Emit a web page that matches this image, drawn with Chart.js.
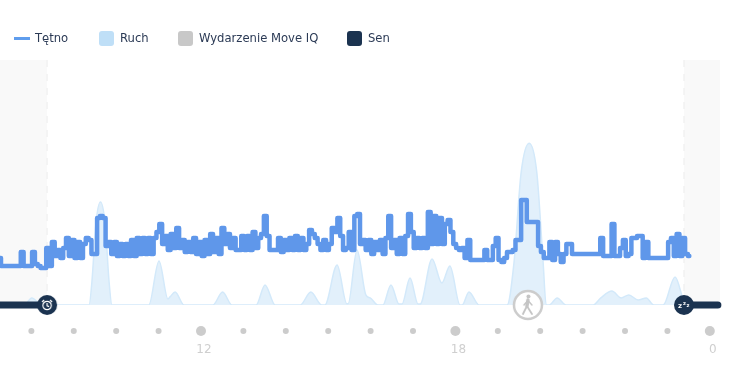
<!DOCTYPE html>
<html lang="pl">
<head>
  <meta charset="UTF-8">
  <title>Tętno</title>
  <script src="https://cdn.jsdelivr.net/npm/chart.js"></script>
  <style>
    body { margin: 0; background: #fff; font-family: "DejaVu Sans", sans-serif; overflow: hidden; }
    #wrap { position: relative; width: 736px; height: 366px; }
    #legend { position: absolute; top: 31px; left: 0; height: 15px; font-size: 11.6px; color: #2b3a55; }
    #legend span { position: absolute; top: 0; line-height: 15px; white-space: nowrap; }
    #legend i { position: absolute; display: block; }
    canvas { position: absolute; top: 0; left: 0; }
  </style>
</head>
<body>
  <div id="wrap">
    <canvas id="chart" width="736" height="366"></canvas>
    <div id="legend">
      <i style="left:14px;top:6px;width:16px;height:3px;background:#5f9ded"></i><span style="left:35px">Tętno</span>
      <i style="left:99px;top:0;width:15px;height:15px;border-radius:3px;background:#bfdff7"></i><span style="left:120px">Ruch</span>
      <i style="left:178px;top:0;width:15px;height:15px;border-radius:3px;background:#c8c8c8"></i><span style="left:199px">Wydarzenie Move IQ</span>
      <i style="left:347px;top:0;width:15px;height:15px;border-radius:3px;background:#1b3350"></i><span style="left:368px">Sen</span>
    </div>
  </div>

  <script>
    // heart rate, one reading every 4 minutes from 7:15
    const hrStartHour = 7.25;
    const hrStepMin = 4;
    const hrValues = [
      53,49,49,49,49,49,49,49,56,49,49,49,56,50,49,48,48,58,49,61,
      54,57,53,58,63,54,62,53,61,53,60,63,62,55,55,73,74,73,59,61,
      55,61,54,60,54,60,54,62,54,63,55,63,55,63,55,63,66,70,60,64,
      57,65,58,68,58,62,56,61,56,63,55,61,54,62,55,65,56,63,55,68,
      60,65,58,63,57,57,64,57,64,57,66,58,63,65,74,64,57,57,57,63,
      56,62,57,63,57,64,57,63,57,60,67,65,63,60,57,62,57,60,68,66,
      73,64,57,58,66,57,74,75,60,62,57,62,55,61,57,62,55,63,74,58,
      62,55,63,55,64,75,66,58,63,58,63,58,76,60,74,60,73,60,70,72,
      66,60,58,57,58,53,62,52,52,52,52,52,57,52,52,59,63,52,51,53,
      56,56,57,62,62,82,82,71,71,71,71,59,56,53,53,61,52,61,55,51,
      55,60,60,55,55,55,55,55,55,55,55,55,55,63,54,54,54,70,54,54,
      58,62,54,55,63,63,64,64,53,61,53,53,53,53,53,53,53,61,63,54,
      65,54,63,55,54
    ];

    // movement curve, hour of day and level
    const moveHours = [
      7.26,7.83,8.01,8.25,9.36,9.43,9.52,9.63,9.74,9.83,9.90,10.77,11.01,11.22,11.27,11.39,11.60,
      12.28,12.51,12.73,13.30,13.51,13.75,14.34,14.59,14.85,14.92,15.21,15.44,15.47,15.68,15.89,15.99,16.17,
      16.29,16.48,16.67,16.74,16.93,17.12,17.17,17.45,17.68,17.87,18.11,18.16,18.32,18.56,
      19.22,19.38,19.55,19.74,19.92,20.07,20.14,20.21,20.40,20.61,21.25,21.43,21.69,21.91,22.09,22.31,22.50,22.68,
      22.90,23.18,23.44,23.53
    ];
    const moveValues = [
      0,0,2.9,0,0,10,33,42,33,10,0,0,18,2.5,3.3,5.3,0,
      0,5.3,0,0,8.2,0,0,5.3,0,0,16.3,0.5,0.5,22.4,4,2.9,0,
      0,8.2,0.4,0.4,11,0.4,0.4,18.8,9,15.9,0,0,5.3,0,
      0,17,54,66,54,17,0,0,2.9,0,0,2.9,5.7,2.9,4.1,2,2.9,0,
      0,11.4,0,0
    ];

    const axisMin = 7.26;
    const axisMax = 24.24;
    const wakeHour = 8.37;
    const sleepHour = 23.39;
    const moveIqHour = 19.71;
    const hourTicks = { 12: '12', 18: '18', 24: '0' };
    const bigTicks = [12, 18, 24];
    const floorHr = 29.5;

    function icon(size, draw) {
      const c = document.createElement('canvas');
      c.width = size; c.height = size;
      const g = c.getContext('2d');
      draw(g, size / 2);
      return c;
    }

    const wakeIcon = icon(22, (g, m) => {
      g.fillStyle = '#1b3350';
      g.beginPath(); g.arc(m, m, 10, 0, Math.PI * 2); g.fill();
      g.strokeStyle = '#fff'; g.lineWidth = 1.2;
      g.beginPath(); g.arc(m, m + 0.5, 4.2, 0, Math.PI * 2); g.stroke();
      g.beginPath(); g.moveTo(m, m - 2); g.lineTo(m, m + 0.8); g.lineTo(m + 2, m + 1.6); g.stroke();
      g.beginPath(); g.moveTo(m - 5, m - 3); g.lineTo(m - 3, m - 5); g.stroke();
      g.beginPath(); g.moveTo(m + 5, m - 3); g.lineTo(m + 3, m - 5); g.stroke();
    });

    const sleepIcon = icon(22, (g, m) => {
      g.fillStyle = '#1b3350';
      g.beginPath(); g.arc(m, m, 10, 0, Math.PI * 2); g.fill();
      g.fillStyle = '#fff';
      g.font = 'bold 7px "DejaVu Sans"';
      g.fillText('z', m - 6, m + 3);
      g.font = 'bold 5px "DejaVu Sans"';
      g.fillText('z', m - 1, m - 0.5);
      g.fillText('z', m + 2.5, m + 2);
    });

    const walkIcon = icon(32, (g, m) => {
      g.fillStyle = '#fff'; g.strokeStyle = '#cccccc'; g.lineWidth = 2.5;
      g.beginPath(); g.arc(m, m, 14, 0, Math.PI * 2); g.fill(); g.stroke();
      g.fillStyle = '#c4c4c4';
      g.beginPath(); g.arc(m + 0.5, m - 8.5, 2, 0, Math.PI * 2); g.fill();
      g.strokeStyle = '#c4c4c4'; g.lineCap = 'round';
      g.lineWidth = 3.4;
      g.beginPath(); g.moveTo(m, m - 5); g.lineTo(m - 1, m + 1); g.stroke();
      g.lineWidth = 1.8;
      g.beginPath(); g.moveTo(m - 1, m + 1); g.lineTo(m - 5, m + 9); g.stroke();
      g.beginPath(); g.moveTo(m - 1, m + 1); g.lineTo(m + 4, m + 9); g.stroke();
      g.lineWidth = 1.4;
      g.beginPath(); g.moveTo(m, m - 4.5); g.lineTo(m - 4, m); g.stroke();
      g.beginPath(); g.moveTo(m, m - 4.5); g.lineTo(m + 4, m); g.stroke();
    });

    const sleepBackdrop = {
      id: 'sleepBackdrop',
      beforeDatasetsDraw(chart) {
        const { ctx, chartArea: a, scales: { x } } = chart;
        const w = x.getPixelForValue(wakeHour);
        const s = x.getPixelForValue(sleepHour);
        ctx.save();
        ctx.fillStyle = '#f9f9f9';
        ctx.fillRect(a.left, a.top, w - a.left, a.height);
        ctx.fillRect(s, a.top, a.right - s, a.height);
        ctx.strokeStyle = '#ececec';
        ctx.setLineDash([7, 7]);
        [w, s].forEach(px => {
          ctx.beginPath(); ctx.moveTo(px, a.top); ctx.lineTo(px, a.bottom); ctx.stroke();
        });
        ctx.restore();
      }
    };

    const tickDots = {
      id: 'tickDots',
      afterDraw(chart) {
        const { ctx, scales: { x } } = chart;
        ctx.save();
        ctx.fillStyle = '#cccccc';
        x.ticks.forEach(t => {
          ctx.beginPath();
          ctx.arc(x.getPixelForValue(t.value), 331, bigTicks.includes(t.value) ? 5 : 3, 0, Math.PI * 2);
          ctx.fill();
        });
        ctx.restore();
      }
    };

    new Chart(document.getElementById('chart'), {
      type: 'line',
      plugins: [sleepBackdrop, tickDots],
      data: {
        datasets: [
          {
            label: 'Wydarzenie Move IQ',
            data: [{ x: moveIqHour, y: floorHr }],
            pointStyle: walkIcon, pointRadius: 16, showLine: false, clip: false, order: 0
          },
          {
            label: 'Sen koniec',
            data: [{ x: wakeHour, y: floorHr }, { x: sleepHour, y: floorHr }],
            pointStyle: [wakeIcon, sleepIcon], pointRadius: 11, showLine: false, clip: false, order: 1
          },
          {
            label: 'Tętno',
            data: hrValues.map((v, i) => ({ x: hrStartHour + i * hrStepMin / 60, y: v })),
            borderColor: '#5f97ea', borderWidth: 4.5, pointRadius: 0, stepped: 'middle',
            borderJoinStyle: 'round', borderCapStyle: 'round', order: 2
          },
          {
            label: 'Sen rano',
            data: [{ x: axisMin - 1, y: floorHr }, { x: wakeHour, y: floorHr }],
            borderColor: '#1b3350', borderWidth: 7, pointRadius: 0, clip: false, order: 3
          },
          {
            label: 'Sen wieczor',
            data: [{ x: sleepHour, y: floorHr }, { x: axisMax - 0.05, y: floorHr }],
            borderColor: '#1b3350', borderWidth: 7, pointRadius: 0, clip: false,
            borderCapStyle: 'round', order: 3
          },
          {
            label: 'Ruch',
            yAxisID: 'yMove',
            data: moveHours.map((h, i) => ({ x: h, y: moveValues[i] })),
            borderColor: '#d3e9fa', backgroundColor: '#e2f0fb', borderWidth: 1.5,
            pointRadius: 0, fill: 'origin', cubicInterpolationMode: 'monotone', order: 4
          }
        ]
      },
      options: {
        responsive: false,
        animation: false,
        layout: { autoPadding: false, padding: { top: 60, right: 16, left: 0, bottom: 0 } },
        plugins: { legend: { display: false }, tooltip: { enabled: false } },
        scales: {
          x: {
            type: 'linear', min: axisMin, max: axisMax,
            grid: { display: false }, border: { display: false },
            afterFit(scale) { scale.height = 61; scale.paddingLeft = 0; scale.paddingRight = 0; },
            ticks: {
              stepSize: 1, autoSkip: false, maxRotation: 0, includeBounds: false,
              padding: 30, labelOffset: 3, color: '#cfcfcf',
              font: { family: '"DejaVu Sans"', size: 12 },
              callback: v => hourTicks[v] || ''
            }
          },
          y: { display: false, min: floorHr, max: 152 },
          yMove: { display: false, min: 0, max: 100 }
        }
      }
    });
  </script>
</body>
</html>
